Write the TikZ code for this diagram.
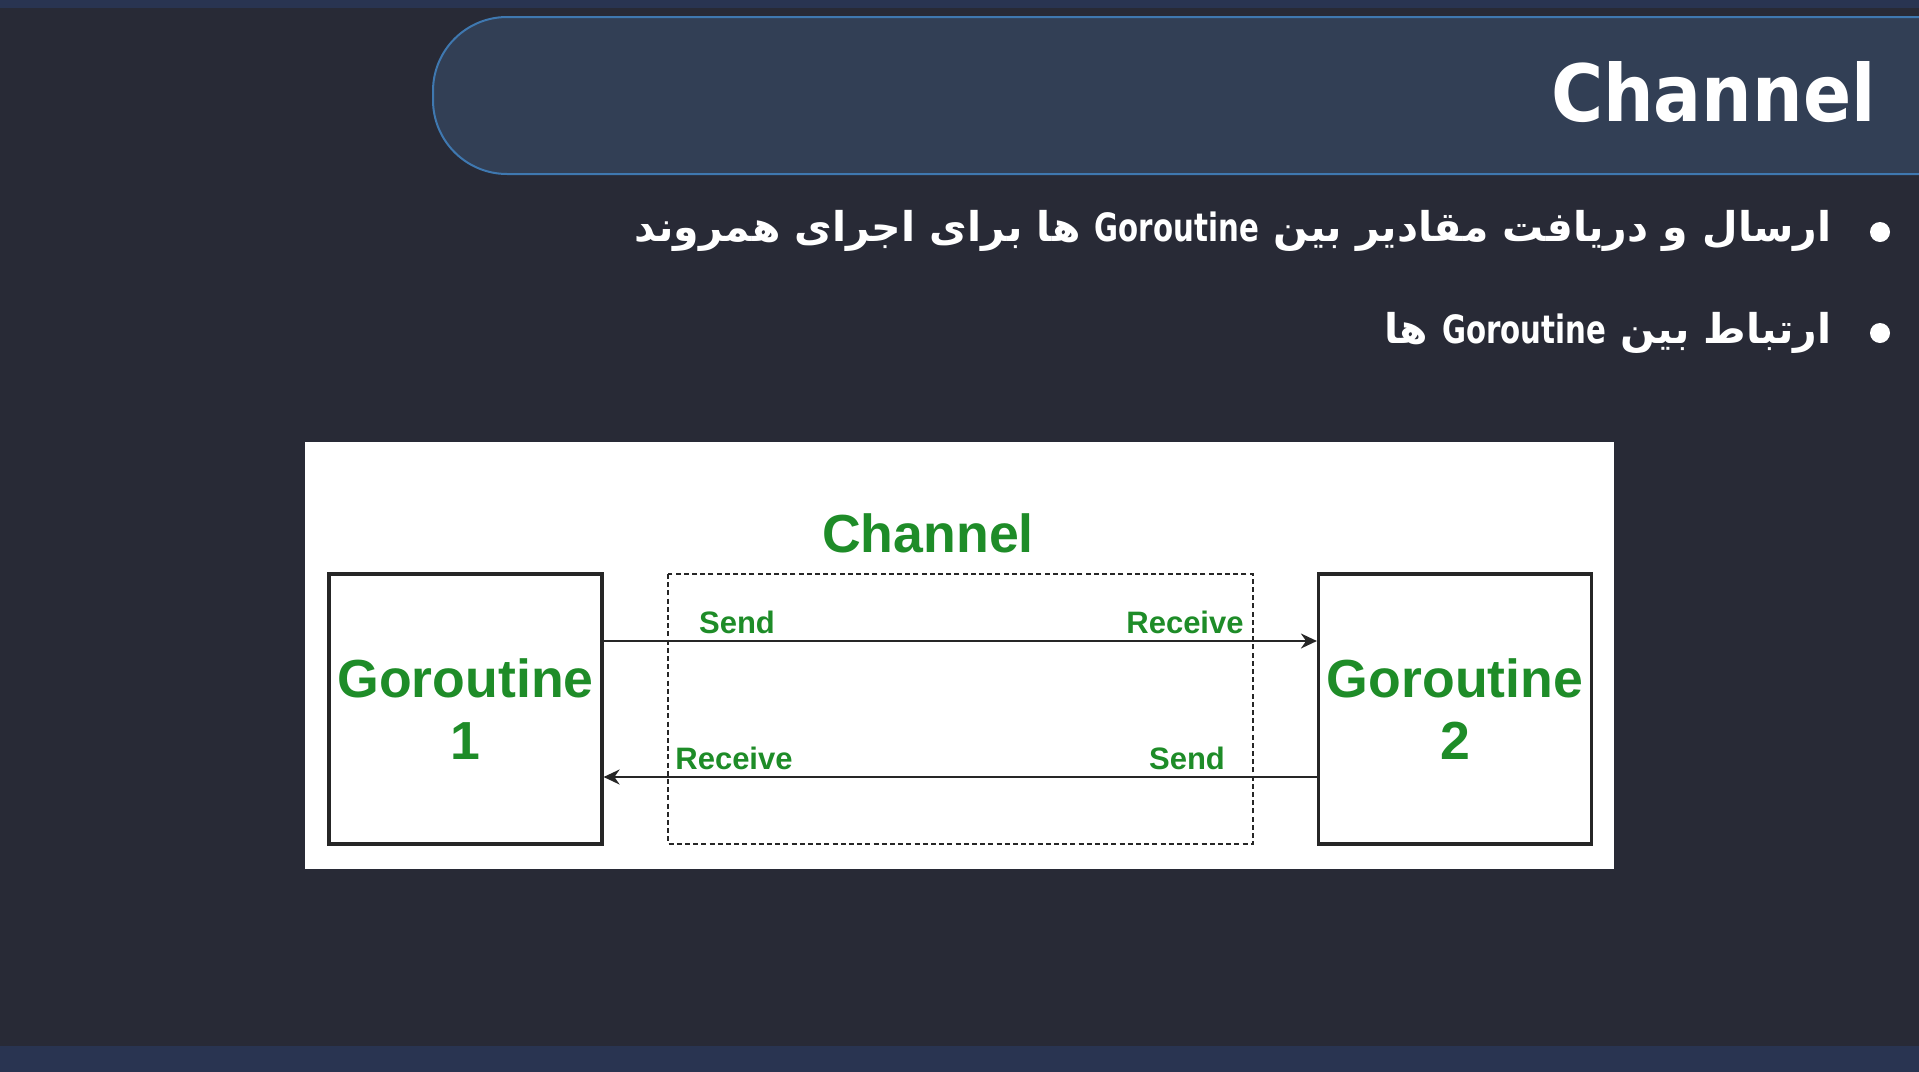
\documentclass[tikz,border=0pt]{standalone}
\usepackage{fontspec}
\usetikzlibrary{arrows.meta}
\TeXXeTstate=1
\newfontfamily\titlefont[FakeStretch=0.9]{DejaVu Sans}
\newfontfamily\arabicfont[Script=Arabic]{DejaVu Sans}
\newfontfamily\latincond[FakeStretch=0.75]{DejaVu Sans Bold}
\newfontfamily\armfont{Liberation Sans}
\definecolor{bgdark}{HTML}{282A36}
\definecolor{barblue}{HTML}{293451}
\definecolor{pillfill}{HTML}{323F55}
\definecolor{pillline}{HTML}{3F78B0}
\definecolor{ggreen}{HTML}{1E8C28}
\newcommand{\goword}{\beginL{\latincond\fontsize{19.5pt}{23pt}\selectfont Goroutine}\endL{}}
\begin{document}
\begin{tikzpicture}[x=0.5pt,y=-0.5pt,
  gbox/.style={draw=black!85,line width=1.6pt,fill=white,minimum width=136.5pt,minimum height=135pt,inner sep=0,align=center,text=ggreen,font=\armfont\bfseries\fontsize{26.8pt}{31pt}\selectfont},
  glabel/.style={text=ggreen,inner sep=0,anchor=base,font=\armfont\bfseries\fontsize{15.5pt}{18pt}\selectfont},
  conn/.style={line width=1pt,black!85,-{Stealth[length=8pt,width=7.5pt]}},
  bullettext/.style={text=white,inner sep=0,anchor=east,font=\arabicfont\bfseries\fontsize{20.5pt}{24pt}\selectfont}]
\useasboundingbox (0,0) rectangle (1919,1072);
\fill[bgdark] (0,0) rectangle (1919,1072);
\fill[barblue] (0,0) rectangle (1919,8);
\fill[barblue] (0,1046) rectangle (1919,1072);
% title pill
\draw[pillline,fill=pillfill,line width=1pt,rounded corners=37pt] (1960,17) -- (433,17) -- (433,174) -- (1960,174);
\node[text=white,inner sep=0,anchor=base east,font=\titlefont\bfseries\fontsize{39.5pt}{45pt}\selectfont] (title) at (1876,121) {Channel};
% bullets
\fill[white] (1880,232) circle (5pt);
\node[bullettext] (b1) at (1832,231) {\beginR ارسال و دریافت مقادیر بین \goword{} ها برای اجرای همروند\endR};
\fill[white] (1880,333) circle (5pt);
\node[bullettext] (b2) at (1832,333) {\beginR ارتباط بین \goword{} ها\endR};
% diagram panel
\fill[white] (305,442) rectangle (1614,869);
\node[glabel,font=\armfont\bfseries\fontsize{26.8pt}{31pt}\selectfont] (chlabel) at (928,552) {Channel};
\draw[black!85,line width=0.8pt,dash pattern=on 2.5pt off 1.6pt] (668,574) rectangle (1253,844);
\node[gbox] (g1) at (465.5,709) {Goroutine\\1};
\node[gbox] (g2) at (1455,709) {Goroutine\\2};
\coordinate (a1s) at (g1.east |- 0,641);
\coordinate (a1e) at (g2.west |- 0,641);
\coordinate (a2s) at (g2.west |- 0,777);
\coordinate (a2e) at (g1.east |- 0,777);
\draw[conn] (a1s) -- (a1e);
\draw[conn] (a2s) -- (a2e);
\node[glabel] (s1) at (737,633) {Send};
\node[glabel] (r1) at (1185,633) {Receive};
\node[glabel] (r2) at (734,769) {Receive};
\node[glabel] (s2) at (1187,769) {Send};
\end{tikzpicture}
\end{document}
